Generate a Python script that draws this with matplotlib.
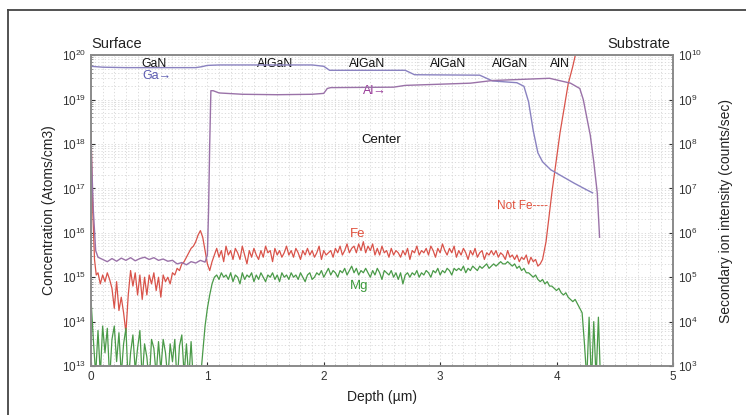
import numpy as np
import matplotlib
matplotlib.use("Agg")
import matplotlib.pyplot as plt
from matplotlib.lines import Line2D
from matplotlib.ticker import MultipleLocator, FixedLocator

plt.rcParams['font.family'] = ['Liberation Sans', 'DejaVu Sans']
plt.rcParams['mathtext.fontset'] = 'custom'
plt.rcParams['mathtext.rm'] = 'Liberation Sans'
plt.rcParams['mathtext.it'] = 'Liberation Sans'

# ---- SIMS depth profile data (log10 values) ----
# Fe concentration (atoms/cm3), left axis
fe_surface_depth = [0.0, 0.015, 0.03, 0.045]
fe_surface_log = [18.3, 16.5, 15.4, 15.05]
fe_bulk_log = [
    15.1, 14.85, 15.05, 14.9, 15.1, 14.95, 14.75, 14.3, 14.9, 14.25,
    14.55, 14.2, 13.75, 14.6, 15.15, 14.8, 15.1, 14.6, 15.05, 14.5,
    15.0, 14.6, 15.05, 14.85, 15.1, 14.7, 15.0, 14.55, 15.05, 14.9,
    15.0, 14.85, 15.1, 15.05, 15.2, 15.15, 15.3, 15.35, 15.45, 15.55,
    15.65, 15.7, 15.8, 15.95, 16.05, 15.9, 15.6, 15.3, 15.15, 15.35,
    15.5, 15.65, 15.45, 15.6, 15.35, 15.7, 15.5, 15.6, 15.4, 15.65,
    15.55, 15.4, 15.7, 15.5, 15.3, 15.6, 15.45, 15.65, 15.5, 15.4,
    15.6, 15.45, 15.7, 15.55, 15.6, 15.35, 15.65, 15.5, 15.6, 15.45,
    15.55, 15.7, 15.5, 15.6, 15.45, 15.65, 15.55, 15.4, 15.6, 15.5,
    15.65, 15.5, 15.6, 15.45, 15.55, 15.7, 15.4, 15.6, 15.5, 15.55,
    15.6, 15.45, 15.65, 15.55, 15.7, 15.5, 15.6, 15.75, 15.55, 15.65,
    15.7, 15.55, 15.75, 15.6, 15.8, 15.55, 15.7, 15.6, 15.75, 15.5,
    15.65, 15.5, 15.7, 15.55, 15.6, 15.45, 15.65, 15.5, 15.6, 15.55,
    15.45, 15.6, 15.5, 15.65, 15.4, 15.6, 15.55, 15.7, 15.5, 15.6,
    15.55, 15.65, 15.5, 15.7, 15.6, 15.45, 15.65, 15.55, 15.75, 15.6,
    15.5, 15.65, 15.55, 15.7, 15.45, 15.6, 15.5, 15.65, 15.55, 15.4,
    15.6, 15.5, 15.65, 15.45, 15.55, 15.6, 15.4, 15.55, 15.5, 15.6,
    15.5, 15.6, 15.45, 15.55, 15.5, 15.4, 15.6, 15.45, 15.5, 15.4,
    15.5, 15.35, 15.45, 15.4, 15.5, 15.3, 15.45, 15.35, 15.4, 15.25,
]
fe_bulk_depth = np.round(np.arange(0.06, 3.841, 0.02), 2)
# signal rising into the AlN / substrate ("Not Fe")
fe_rise_depth = [3.86, 3.88, 3.91, 3.96, 4.03, 4.10, 4.14, 4.17]
fe_rise_log = [15.3, 15.4, 15.8, 16.9, 18.25, 19.35, 19.75, 20.1]

# Mg concentration (atoms/cm3), left axis
mg_log = [
    14.5, 13.6, 12.8,
    13.8, 12.8, 13.9, 13.3, 13.85, 12.7, 13.6, 13.9, 13.1, 13.75,
    12.8, 13.5, 13.85, 12.6, 13.3, 13.7, 12.9, 13.4, 13.8, 12.7,
    13.5, 13.2, 12.6, 13.6, 13.4, 12.8, 13.55, 12.9, 13.6, 13.3,
    12.7, 13.5, 13.1, 13.6, 12.6, 13.45, 13.7, 12.8, 13.5, 12.7,
    13.55, 12.6, 13.0, 12.6, 12.7,
    13.3, 13.9, 14.3, 14.6, 14.85, 15.0, 15.05, 14.95, 15.1, 15.0,
    15.05, 14.95, 15.1, 14.9, 15.05, 15.0, 14.85, 15.1, 14.95, 15.05,
    15.0, 15.1, 14.9, 15.05, 14.95, 15.1, 15.0, 14.9, 15.05, 15.0,
    15.1, 14.95, 15.05, 14.9, 15.1, 15.0, 15.05, 14.95, 15.1, 15.0,
    15.05, 14.95, 15.1, 15.0, 14.9, 15.05, 15.1, 14.95, 15.0, 15.1,
    15.05, 15.15, 15.0, 15.1, 15.2, 15.05, 15.15, 15.1, 15.0, 15.15,
    15.1, 15.2, 15.05, 15.15, 15.25, 15.1, 15.2, 15.05, 15.15, 15.1,
    15.2, 15.1, 15.0, 15.15, 15.05, 15.2, 15.1, 14.95, 15.15, 15.1,
    15.05, 15.15, 15.0, 15.1, 14.95, 15.1, 14.85, 15.05, 15.1, 15.0,
    15.1, 15.05, 15.15, 15.0, 15.1, 15.05, 15.15, 15.1, 15.0, 15.15,
    15.1, 15.2, 15.05, 15.15, 15.1, 15.2, 15.15, 15.05, 15.2, 15.15,
    15.2, 15.15, 15.25, 15.1, 15.2, 15.15, 15.25, 15.2, 15.15, 15.25,
    15.2, 15.25, 15.3, 15.2, 15.25, 15.3, 15.25, 15.3, 15.35, 15.3,
    15.3, 15.35, 15.3, 15.25, 15.3, 15.2, 15.25, 15.15, 15.2, 15.1,
    15.1, 15.05, 15.0, 15.05, 14.95, 14.9, 14.95, 14.85, 14.9, 14.8,
    14.8, 14.75, 14.7, 14.75, 14.65, 14.6, 14.65, 14.55, 14.5, 14.45,
    14.5, 14.4, 14.3, 14.2, 13.5, 12.7, 14.1, 12.6, 14.0, 12.7, 14.1, 12.5,
]
mg_depth = np.round(np.arange(0.0, 4.381, 0.02), 2)

# Ga and Al secondary ion intensity (counts/sec), right axis
ga_depth = [0.0, 0.1, 0.3, 0.6, 0.9, 0.95, 1.0, 1.1, 1.5, 1.9, 2.0, 2.05,
            2.7, 2.78, 3.34, 3.45, 3.66, 3.72, 3.76, 3.80, 3.84, 3.88,
            3.95, 4.05, 4.15, 4.25, 4.31]
ga_log = [9.75, 9.73, 9.72, 9.72, 9.72, 9.74, 9.77, 9.78, 9.78, 9.78, 9.75, 9.66,
          9.66, 9.56, 9.55, 9.42, 9.38, 9.3, 8.95, 8.3, 7.8, 7.6,
          7.42, 7.27, 7.12, 6.98, 6.9]

al_depth = [0.0, 0.02, 0.04, 0.06, 0.10, 0.14, 0.18, 0.22, 0.26, 0.30, 0.34,
            0.38, 0.42, 0.46, 0.50, 0.54, 0.58, 0.62, 0.66, 0.70, 0.74, 0.78,
            0.82, 0.86, 0.90, 0.94, 0.98, 1.00, 1.01, 1.02, 1.03, 1.05, 1.10,
            1.3, 1.6, 1.9, 2.0, 2.03, 2.06, 2.6, 2.7, 3.26, 3.45, 3.94, 4.12,
            4.20, 4.23, 4.26, 4.29, 4.32, 4.35, 4.37]
al_log = [8.0, 6.5, 5.6, 5.45, 5.4, 5.35, 5.42, 5.36, 5.43, 5.38, 5.44,
          5.37, 5.42, 5.45, 5.4, 5.44, 5.38, 5.41, 5.36, 5.38, 5.3, 5.33,
          5.28, 5.35, 5.32, 5.38, 5.34, 5.5, 6.5, 8.0, 9.2, 9.2, 9.15,
          9.12, 9.11, 9.12, 9.14, 9.25, 9.27, 9.28, 9.32, 9.37, 9.43, 9.48, 9.37,
          9.25, 9.0, 8.6, 8.2, 7.6, 6.9, 5.9]

layer_names = ["GaN", "AlGaN", "AlGaN", "AlGaN", "AlGaN", "AlN"]
layer_label_x = [0.54, 1.58, 2.37, 3.07, 3.6, 4.03]

left_decades = list(range(13, 21))
right_decades = list(range(3, 11))

# ---- colours ----
FE_LINE = "#d9534a"
FE_TEXT = "#e0503c"
MG_LINE = "#4a9a48"
MG_TEXT = "#3c9a3c"
GA_LINE = "#8a82c0"
GA_TEXT = "#5a5ab0"
AL_LINE = "#9a72a8"
AL_TEXT = "#983a98"
GRID = "#d6d6d6"
SPINE = "#8a8a8a"


def log_ticks(decades):
    major = [10.0 ** d for d in decades]
    minor = [m * 10.0 ** d for d in decades[:-1] for m in range(2, 10)]
    return major, minor


fig = plt.figure(figsize=(7.46, 4.15), dpi=100)
ax = fig.add_axes([0.122, 0.118, 0.780, 0.749])
ax2 = ax.twinx()

fe_depth = np.concatenate([fe_surface_depth, fe_bulk_depth, fe_rise_depth])
fe_vals = 10 ** np.concatenate([fe_surface_log, fe_bulk_log, fe_rise_log])
ax.plot(fe_depth, fe_vals, color=FE_LINE, lw=0.9)
ax.plot(mg_depth, 10 ** np.array(mg_log), color=MG_LINE, lw=0.9)
ax2.plot(ga_depth, 10 ** np.array(ga_log), color=GA_LINE, lw=1.0)
ax2.plot(al_depth, 10 ** np.array(al_log), color=AL_LINE, lw=1.0)

ax.set_yscale('log')
ax2.set_yscale('log')
ax.set_xlim(0, 5)
ax.set_ylim(10.0 ** left_decades[0], 10.0 ** left_decades[-1])
ax2.set_ylim(10.0 ** right_decades[0], 10.0 ** right_decades[-1])

ax.xaxis.set_major_locator(MultipleLocator(1))
ax.xaxis.set_minor_locator(MultipleLocator(0.1))
lmaj, lmin = log_ticks(left_decades)
rmaj, rmin = log_ticks(right_decades)
ax.yaxis.set_major_locator(FixedLocator(lmaj))
ax.yaxis.set_minor_locator(FixedLocator(lmin))
ax.set_yticklabels([rf'$10^{{{d}}}$' for d in left_decades])
ax2.yaxis.set_major_locator(FixedLocator(rmaj))
ax2.yaxis.set_minor_locator(FixedLocator(rmin))
ax2.set_yticklabels([rf'$10^{{{d}}}$' for d in right_decades])
ax.yaxis.set_minor_formatter(plt.NullFormatter())
ax2.yaxis.set_minor_formatter(plt.NullFormatter())

ax.grid(True, which='both', axis='both', color=GRID, ls=(0, (1.5, 2.5)), lw=0.6)
ax.set_axisbelow(True)

for a in (ax, ax2):
    for s in a.spines.values():
        s.set_color(SPINE)
        s.set_linewidth(1.2)
    a.tick_params(which='major', labelsize=8.5, colors='#333333', length=3, width=0.8)
    a.tick_params(which='minor', length=1.5, width=0.6, colors=SPINE)
ax.tick_params(axis='both', which='both', direction='in')
ax2.tick_params(axis='y', which='both', direction='in')

ax.set_xlabel("Depth (µm)", fontsize=10, color='#222222', labelpad=5)
ax.set_ylabel("Concentration (Atoms/cm3)", fontsize=10, color='#222222', labelpad=4)
ax2.set_ylabel("Secondary ion intensity (counts/sec)", fontsize=10, color='#222222', labelpad=12)

# annotations
ax.text(0.0, 1.013, "Surface", transform=ax.transAxes, fontsize=10.5,
        ha='left', va='bottom', color='#222222')
ax.text(0.995, 1.013, "Substrate", transform=ax.transAxes, fontsize=10.5,
        ha='right', va='bottom', color='#222222')
for name, xpos in zip(layer_names, layer_label_x):
    ax.text(xpos, 6.3e19, name, fontsize=8.8, ha='center', va='center', color='#111111')
ax.text(0.57, 3.4e19, "Ga\u2192", fontsize=9, ha='center', va='center', color=GA_TEXT)
ax.text(2.44, 1.55e19, "Al\u2192", fontsize=9, ha='center', va='center', color=AL_TEXT)
ax.text(2.49, 1.2e18, "Center", fontsize=9.5, ha='center', va='center', color='#111111')
ax.text(2.29, 9.5e15, "Fe", fontsize=9.5, ha='center', va='center', color=FE_TEXT)
ax.text(2.30, 6.5e14, "Mg", fontsize=9.5, ha='center', va='center', color=MG_TEXT)
ax.text(3.93, 4.0e16, "Not Fe----", fontsize=8.5, ha='right', va='center', color=FE_TEXT)

# outer frame
fig.add_artist(Line2D([8 / 746, 8 / 746], [0, 1 - 10 / 415], color='#444444', lw=1.3))
fig.add_artist(Line2D([8 / 746, 1], [1 - 10 / 415, 1 - 10 / 415], color='#444444', lw=1.3))

fig.savefig("out.png", dpi=100)
